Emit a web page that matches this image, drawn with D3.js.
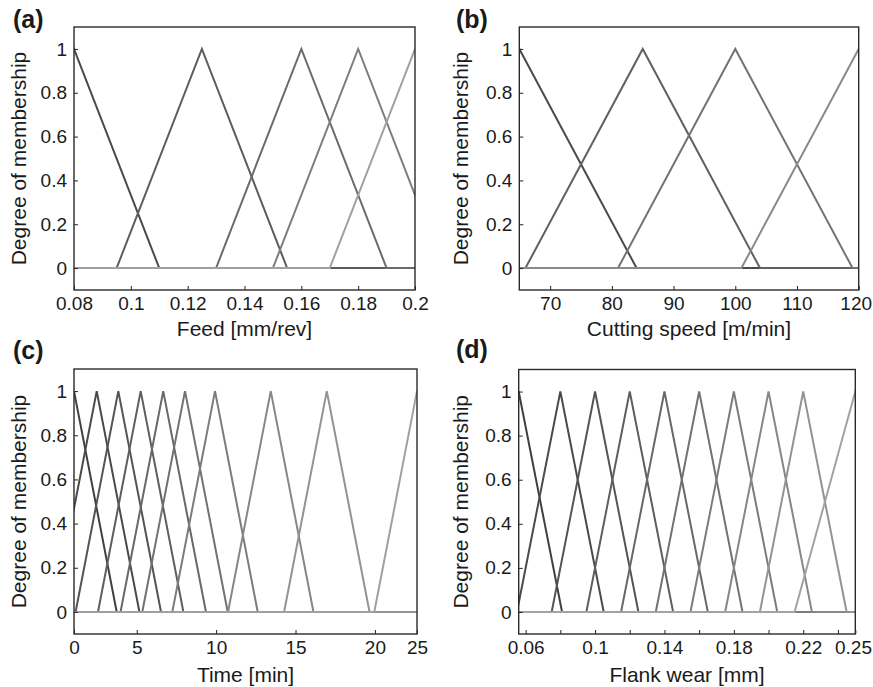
<!DOCTYPE html>
<html><head><meta charset="utf-8">
<script src="https://cdn.jsdelivr.net/npm/d3@7"></script>
<style>
body{margin:0;background:#fff}
svg{display:block}
text{font-family:"Liberation Sans",Arial,Helvetica,sans-serif;fill:#1a1a1a}
</style>
</head><body>
<svg id="chart" width="873" height="687"></svg>
<script>
// ---------------- DATA ----------------
const yDomain = [-0.1, 1.1];
const yTicks = [0, 0.2, 0.4, 0.6, 0.8, 1];
const yTickLabels = ["0", "0.2", "0.4", "0.6", "0.8", "1"];
const yTitle = "Degree of membership";

// (a) Feed
const feedDomain = [0.08, 0.2];
const feedTicks = [0.08, 0.1, 0.12, 0.14, 0.16, 0.18, 0.2];
const feedTickLabels = ["0.08", "0.1", "0.12", "0.14", "0.16", "0.18", "0.2"];
const feedMF = [[0.05, 0.08, 0.11], [0.095, 0.125, 0.155], [0.13, 0.16, 0.19], [0.15, 0.18, 0.21], [0.17, 0.2, 0.23]];
const feedTitle = "Feed [mm/rev]";

// (b) Cutting speed
const speedDomain = [65, 120];
const speedTicks = [70, 80, 90, 100, 110, 120];
const speedTickLabels = ["70", "80", "90", "100", "110", "120"];
const speedMF = [[46, 65, 84], [66, 85, 104], [81, 100, 119], [101, 120, 139]];
const speedTitle = "Cutting speed [m/min]";

// (c) Time
const timeDomain = [1.05, 22.65];
const timeTicks = [1.05, 5, 10, 15, 20, 22.65];
const timeTickLabels = ["0", "5", "10", "15", "20", "25"];
const timeMF = [[-1.64, 1.05, 3.74], [-0.21, 2.48, 5.17], [1.15, 3.84, 6.53], [2.56, 5.25, 7.94], [3.98, 6.67, 9.36],
                [5.35, 8.04, 10.73], [7.24, 9.93, 12.62], [10.75, 13.44, 16.13], [14.28, 16.97, 19.66], [19.96, 22.65, 25.34]];
const timeTitle = "Time [min]";

// (d) Flank wear
const wearDomain = [0.056, 0.25];
const wearTicks = [0.06, 0.08, 0.1, 0.12, 0.14, 0.16, 0.18, 0.2, 0.22, 0.24, 0.25];
const wearTickLabels = ["0.06", "", "0.1", "", "0.14", "", "0.18", "", "0.22", "", "0.25"];
const wearMF = [[0.031, 0.056, 0.081], [0.055, 0.08, 0.105], [0.075, 0.1, 0.125], [0.095, 0.12, 0.145], [0.115, 0.14, 0.165],
                [0.135, 0.16, 0.185], [0.155, 0.18, 0.205], [0.175, 0.2, 0.225], [0.195, 0.22, 0.245], [0.215, 0.25, 0.285]];
const wearTitle = "Flank wear [mm]";

const panelLetters = ["(a)", "(b)", "(c)", "(d)"];

// ---------------- STYLE / LAYOUT ----------------
const feedColors = ["#4a4a4a", "#5c5c5c", "#6b6b6b", "#7d7d7d", "#a0a0a0"];
const speedColors = ["#4a4a4a", "#616161", "#747474", "#8a8a8a"];
const timeColors = ["#404040", "#4a4a4a", "#545454", "#5e5e5e", "#686868", "#727272", "#7c7c7c", "#878787", "#939393", "#a0a0a0"];
const wearColors = ["#404040", "#4a4a4a", "#545454", "#5e5e5e", "#686868", "#727272", "#7c7c7c", "#878787", "#939393", "#a2a2a2"];

const layout = [
  {x0: 74, x1: 415, y0: 27, y1: 290, letterX: 13, letterY: 28, ylabX: 26, xlabY: 336},
  {x0: 519.3, x1: 858.7, y0: 27, y1: 290, letterX: 456, letterY: 28, ylabX: 468, xlabY: 336},
  {x0: 74, x1: 417, y0: 369, y1: 634, letterX: 13, letterY: 359, ylabX: 26, xlabY: 682},
  {x0: 518.7, x1: 855.3, y0: 369.5, y1: 634, letterX: 456, letterY: 358, ylabX: 468, xlabY: 682}
];

const panels = [
  {domain: feedDomain, ticks: feedTicks, labels: feedTickLabels, mfs: feedMF, colors: feedColors, title: feedTitle},
  {domain: speedDomain, ticks: speedTicks, labels: speedTickLabels, mfs: speedMF, colors: speedColors, title: speedTitle},
  {domain: timeDomain, ticks: timeTicks, labels: timeTickLabels, mfs: timeMF, colors: timeColors, title: timeTitle},
  {domain: wearDomain, ticks: wearTicks, labels: wearTickLabels, mfs: wearMF, colors: wearColors, title: wearTitle}
];

const W = 873;
const svg = d3.select("#chart");
svg.append("rect").attr("width", W).attr("height", 687).attr("fill", "#fff");

panels.forEach((p, i) => {
  const L = layout[i];
  const x = d3.scaleLinear().domain(p.domain).range([L.x0, L.x1]);
  const y = d3.scaleLinear().domain(yDomain).range([L.y1, L.y0]);
  const g = svg.append("g");

  const clipId = "clip" + i;
  svg.append("clipPath").attr("id", clipId)
    .append("rect").attr("x", L.x0).attr("y", L.y0).attr("width", L.x1 - L.x0).attr("height", L.y1 - L.y0);

  const line = d3.line().x(d => x(d[0])).y(d => y(d[1]));
  const lg = g.append("g").attr("clip-path", `url(#${clipId})`);
  p.mfs.forEach((m, k) => {
    const pts = [[Math.min(p.domain[0], m[0]) - 1, 0], [m[0], 0], [m[1], 1], [m[2], 0], [Math.max(p.domain[1], m[2]) + 1, 0]];
    lg.append("path").attr("d", line(pts))
      .attr("fill", "none").attr("stroke", p.colors[k]).attr("stroke-width", 2)
      .attr("stroke-linejoin", "miter");
  });

  // x axis
  const xa = g.append("g").attr("transform", `translate(0,${L.y1})`)
    .call(d3.axisBottom(x).tickValues(p.ticks).tickFormat((d, j) => p.labels[j])
      .tickSizeInner(-4).tickSizeOuter(0).tickPadding(7));
  xa.select(".domain").remove();
  xa.selectAll("line").attr("stroke", "#222").attr("stroke-width", 1);
  xa.selectAll("text").attr("font-size", 19).attr("fill", "#1a1a1a")
    .attr("font-family", "Liberation Sans, Arial, sans-serif");
  // keep labels inside the page
  xa.selectAll(".tick").each(function() {
    const t = d3.select(this).select("text");
    const node = t.node();
    if (!node || !node.textContent) return;
    const bb = node.getBBox();
    const tr = this.transform.baseVal.consolidate();
    const tx = tr ? tr.matrix.e : 0;
    const right = tx + bb.x + bb.width;
    if (right > W - 1) t.attr("dx", (W - 1 - right));
  });

  // y axis
  const ya = g.append("g").attr("transform", `translate(${L.x0},0)`)
    .call(d3.axisLeft(y).tickValues(yTicks).tickFormat((d, j) => yTickLabels[j])
      .tickSizeInner(-4).tickSizeOuter(0).tickPadding(7));
  ya.select(".domain").remove();
  ya.selectAll("line").attr("stroke", "#222").attr("stroke-width", 1);
  ya.selectAll("text").attr("font-size", 19).attr("fill", "#1a1a1a")
    .attr("font-family", "Liberation Sans, Arial, sans-serif");

  // frame
  g.append("rect").attr("x", L.x0).attr("y", L.y0).attr("width", L.x1 - L.x0).attr("height", L.y1 - L.y0)
    .attr("fill", "none").attr("stroke", "#2a2a2a").attr("stroke-width", 1.4);

  // axis titles
  g.append("text").attr("x", (L.x0 + L.x1) / 2).attr("y", L.xlabY)
    .attr("text-anchor", "middle").attr("font-size", 21).text(p.title);
  g.append("text").attr("transform", `translate(${L.ylabX},${(L.y0 + L.y1) / 2}) rotate(-90)`)
    .attr("text-anchor", "middle").attr("font-size", 21).text(yTitle);

  // panel letter
  g.append("text").attr("x", L.letterX).attr("y", L.letterY)
    .attr("font-size", 25).attr("font-weight", "bold").text(panelLetters[i]);
});
</script>
</body></html>
